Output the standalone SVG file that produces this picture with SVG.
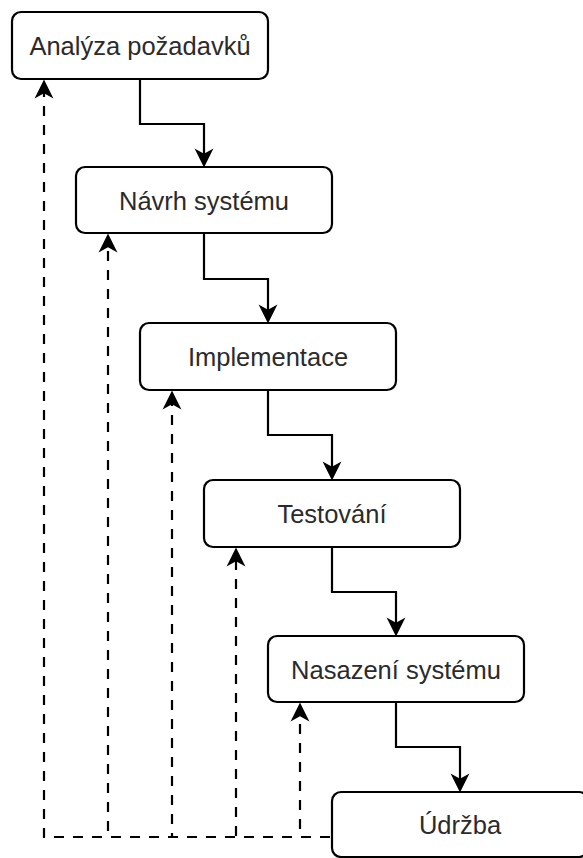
<svg xmlns="http://www.w3.org/2000/svg" width="583" height="858" viewBox="0 0 583 858">
<style>
.box{fill:#fff;stroke:#000;stroke-width:2.2}
.lbl{font-family:"Liberation Sans",Arial,sans-serif;font-size:25.5px;fill:#2b2b2b;text-anchor:middle}
.solid{fill:none;stroke:#000;stroke-width:2.2}
.dash{fill:none;stroke:#000;stroke-width:2.2;stroke-dasharray:10 9}
</style>
<defs>
<marker id="arr" markerUnits="userSpaceOnUse" markerWidth="22" markerHeight="22" viewBox="-9 -10 21 20" refX="0" refY="0" orient="auto">
<path d="M10,0 L-8,-9 L-3,0 L-8,9 Z" fill="#000"/>
</marker>
</defs>
<rect width="583" height="858" fill="#fff"/>
<g id="connectors">
<path class="dash" d="M330,837 H44 V90" marker-end="url(#arr)"/>
<path class="dash" d="M330,837 H108 V244" marker-end="url(#arr)"/>
<path class="dash" d="M330,837 H172 V401" marker-end="url(#arr)"/>
<path class="dash" d="M330,837 H236 V558" marker-end="url(#arr)"/>
<path class="dash" d="M330,837 H300 V713" marker-end="url(#arr)"/>
<path class="solid" d="M140,79 V124 H204 V157" marker-end="url(#arr)"/>
<path class="solid" d="M204,233 V279 H268 V313" marker-end="url(#arr)"/>
<path class="solid" d="M268,390 V435 H332 V470" marker-end="url(#arr)"/>
<path class="solid" d="M332,547 V592 H396 V626" marker-end="url(#arr)"/>
<path class="solid" d="M396,702 V747 H460 V782" marker-end="url(#arr)"/>
</g>
<g id="n1"><rect class="box" x="12" y="12" width="256" height="67" rx="9"/><text class="lbl" x="140" y="55">Analýza požadavků</text></g>
<g id="n2"><rect class="box" x="76" y="167" width="256" height="66" rx="9"/><text class="lbl" x="204" y="210">Návrh systému</text></g>
<g id="n3"><rect class="box" x="140" y="323" width="256" height="67" rx="9"/><text class="lbl" x="268" y="366">Implementace</text></g>
<g id="n4"><rect class="box" x="204" y="480" width="256" height="67" rx="9"/><text class="lbl" x="332" y="523">Testování</text></g>
<g id="n5"><rect class="box" x="268" y="636" width="256" height="66" rx="9"/><text class="lbl" x="396" y="679">Nasazení systému</text></g>
<g id="n6"><rect class="box" x="332" y="792" width="256" height="65" rx="9"/><text class="lbl" x="460" y="834">Údržba</text></g>
</svg>
